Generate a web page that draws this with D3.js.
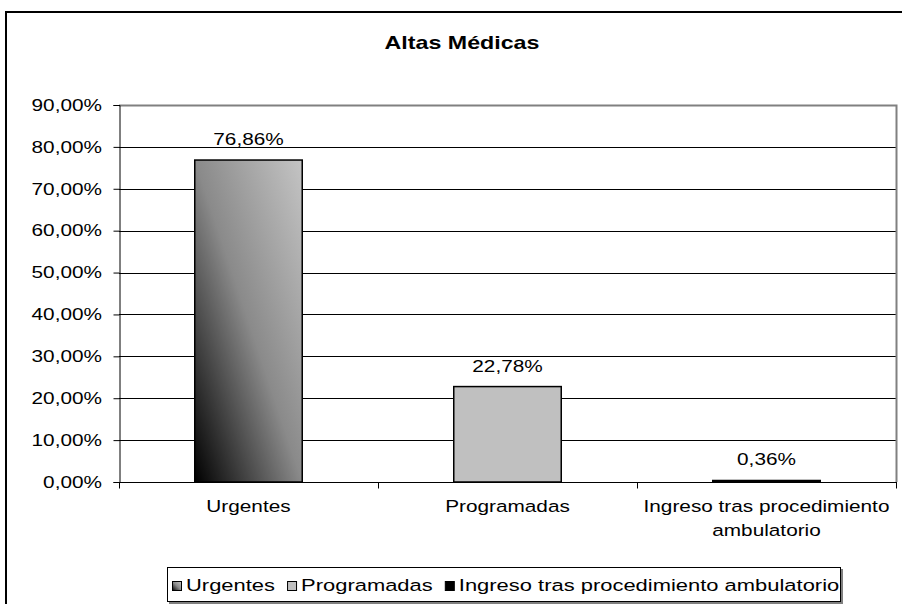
<!DOCTYPE html>
<html><head><meta charset="utf-8">
<script src="https://cdn.jsdelivr.net/npm/d3@7"></script>
<style>
html,body{margin:0;padding:0;background:#fff;}
svg{display:block;}
text{font-family:"Liberation Sans",Arial,sans-serif;fill:#000;}
</style></head>
<body>
<svg id="chart" width="902" height="604"></svg>
<script>
const categories = ["Urgentes", "Programadas", "Ingreso tras procedimiento ambulatorio"];
const axisLabelLines = [["Urgentes"], ["Programadas"], ["Ingreso tras procedimiento", "ambulatorio"]];
const values = [76.86, 22.78, 0.36];
const valueLabels = ["76,86%", "22,78%", "0,36%"];
const yTicks = [0, 10, 20, 30, 40, 50, 60, 70, 80, 90];
const titleText = "Altas Médicas";

const FS = 16.5;
const SX = 1.26;       // horizontal text stretch seen in the reference
const SXL = 1.33;      // legend stretch
const SXT = 1.29;      // title stretch

const svg = d3.select("#chart");
const defs = svg.append("defs");
const g1 = defs.append("linearGradient").attr("id", "gradU")
  .attr("x1", 0).attr("y1", 1).attr("x2", 1).attr("y2", 0);
g1.append("stop").attr("offset", 0).attr("stop-color", "#000");
g1.append("stop").attr("offset", 0.5).attr("stop-color", "#8a8a8a");
g1.append("stop").attr("offset", 1).attr("stop-color", "#c4c4c4");

const fills = ["url(#gradU)", "#c0c0c0", "#000"];

// outer chart border (extends past the viewport)
svg.append("rect").attr("x", 6).attr("y", 12).attr("width", 1000).attr("height", 700)
  .attr("fill", "none").attr("stroke", "#000").attr("stroke-width", 2);

const pLeft = 119, pRight = 896, pTop = 105, pBottom = 482;
const x = d3.scaleBand().domain(categories).range([pLeft, pRight]).padding(0);
const y = d3.scaleLinear().domain([0, 90]).range([pBottom, pTop]);

function stretch(sx) {
  return function (sel) {
    sel.each(function () {
      const t = d3.select(this);
      const tx = +t.attr("x") || 0, ty = +t.attr("y") || 0;
      t.attr("x", 0).attr("y", 0)
       .attr("transform", `translate(${tx},${ty}) scale(${sx},1)`);
    });
  };
}

// title
svg.append("text").attr("x", 462).attr("y", 49).attr("text-anchor", "middle")
  .attr("font-size", 18).attr("font-weight", "bold").text(titleText).call(stretch(SXT));

// gridlines
svg.append("g").selectAll("line").data(yTicks.filter(d => d > 0 && d < 90)).join("line")
  .attr("x1", pLeft).attr("x2", pRight)
  .attr("y1", d => Math.round(y(d)) + 0.5).attr("y2", d => Math.round(y(d)) + 0.5)
  .attr("stroke", "#000").attr("stroke-width", 1);
// plot area border (top & right gray)
svg.append("path")
  .attr("d", `M${pLeft},${Math.round(pTop) + 0.5}H${pRight + 0.5}V${pBottom}`)
  .attr("fill", "none").attr("stroke", "#808080").attr("stroke-width", 2);

// bars
const bw = x.bandwidth() * 0.415;
svg.append("g").selectAll("rect").data(values).join("rect")
  .attr("x", (d, i) => x(categories[i]) + (x.bandwidth() - bw) / 2)
  .attr("width", bw)
  .attr("y", d => y(d))
  .attr("height", d => pBottom - y(d))
  .attr("fill", (d, i) => fills[i])
  .attr("stroke", "#000").attr("stroke-width", 1.5);

// value labels
svg.append("g").selectAll("text").data(values).join("text")
  .attr("x", (d, i) => x(categories[i]) + x.bandwidth() / 2)
  .attr("y", d => y(d) - 15)
  .attr("text-anchor", "middle").attr("font-size", FS)
  .text((d, i) => valueLabels[i]).call(stretch(SX));

// y axis
const yAxis = d3.axisLeft(y).tickValues(yTicks).tickSize(6).tickPadding(10)
  .tickFormat(d => d.toFixed(2).replace(".", ",") + "%");
const ya = svg.append("g").attr("transform", `translate(${pLeft + 0.5},0)`).call(yAxis);
ya.select(".domain").attr("stroke", "#000");
ya.selectAll(".tick line").attr("stroke", "#000");
ya.selectAll(".tick text").attr("font-size", FS).attr("font-family", "Liberation Sans, Arial, sans-serif")
  .each(function () {
    d3.select(this).attr("x", 0).attr("transform", `translate(-17.5,0) scale(${SX},1)`);
  });

// x axis (ticks at category boundaries)
const xa = svg.append("g").attr("transform", `translate(0,${pBottom + 0.5})`);
xa.append("line").attr("x1", pLeft).attr("x2", pRight + 1).attr("stroke", "#000");
const bounds = categories.map(c => x(c)).concat([pRight]);
xa.selectAll(".tk").data(bounds).join("line").attr("class", "tk")
  .attr("x1", d => Math.round(d) + 0.5).attr("x2", d => Math.round(d) + 0.5)
  .attr("y1", 0).attr("y2", 6).attr("stroke", "#000");
axisLabelLines.forEach((lines, i) => {
  lines.forEach((ln, j) => {
    svg.append("text").attr("x", x(categories[i]) + x.bandwidth() / 2)
      .attr("y", 512 + j * 24).attr("text-anchor", "middle").attr("font-size", FS)
      .text(ln).call(stretch(SX));
  });
});

// legend
const lg = svg.append("g");
lg.append("rect").attr("x", 169).attr("y", 569).attr("width", 674).attr("height", 35).attr("fill", "#808080");
lg.append("rect").attr("x", 167.5).attr("y", 567.5).attr("width", 673).attr("height", 34)
  .attr("fill", "#fff").attr("stroke", "#000").attr("stroke-width", 1);
let lx = 172;
categories.forEach((c, i) => {
  lg.append("rect").attr("x", lx + 0.5).attr("y", 581.5).attr("width", 9).attr("height", 9)
    .attr("fill", fills[i]).attr("stroke", "#000").attr("stroke-width", 1);
  const t = lg.append("text").attr("x", lx + 14).attr("y", 591).attr("font-size", FS).text(c);
  const w = t.node().getComputedTextLength() * SXL;
  t.call(stretch(SXL));
  lx += 14 + w + 12;
});
</script>
</body></html>
